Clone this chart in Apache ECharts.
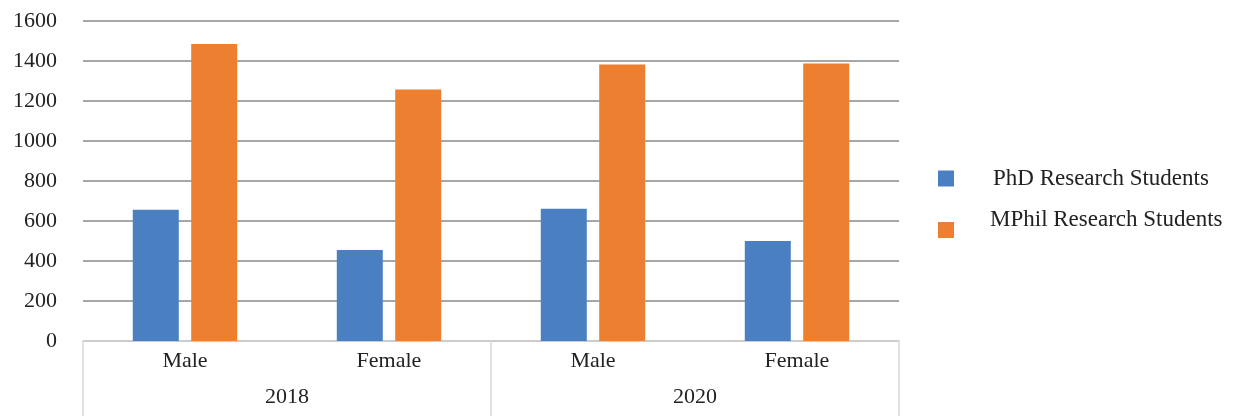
<!DOCTYPE html>
<html>
<head>
<meta charset="utf-8">
<script src="https://cdn.jsdelivr.net/npm/echarts@6/dist/echarts.min.js"></script>
<style>html,body{margin:0;padding:0;background:#fff;}#c{width:1233px;height:416px;}</style>
</head>
<body>
<div id="c"></div>
<script>
const categories = ['Male', 'Female', 'Male', 'Female'];
const years = ['2018', '2020'];
const seriesNames = ['PhD Research Students', 'MPhil Research Students'];
const phdValues = [656, 455, 661, 500];
const mphilValues = [1485, 1258, 1383, 1388];
const yTicks = { min: 0, max: 1600, interval: 200 };

const font = 'Liberation Serif, DejaVu Serif, serif';
const chart = echarts.init(document.getElementById('c'), null, { renderer: 'canvas' });
chart.setOption({
  backgroundColor: '#ffffff',
  animation: false,
  grid: { left: 83, right: 334, top: 21, bottom: 75, containLabel: false },
  legend: [
    {
      data: [seriesNames[0]], left: 938, top: 167, orient: 'vertical', padding: 0,
      itemWidth: 16, itemHeight: 16, icon: 'rect',
      textStyle: { fontFamily: font, fontSize: 23, color: '#222', padding: [0, 0, 0, 34] }
    },
    {
      data: [seriesNames[1]], left: 938, top: 222, orient: 'vertical', padding: 0,
      itemWidth: 16, itemHeight: 16, icon: 'rect',
      formatter: function () { return ''; },
      textStyle: { fontFamily: font, fontSize: 23, color: '#222' }
    },
    {
      data: [{ name: seriesNames[1], icon: 'none' }], left: 985, top: 208, orient: 'vertical', padding: 0,
      itemWidth: 0, itemHeight: 16,
      textStyle: { fontFamily: font, fontSize: 23, color: '#222' }
    }
  ],
  xAxis: [
    {
      type: 'category', data: categories, position: 'bottom',
      axisLine: { show: true, lineStyle: { color: '#d9d9d9', width: 1.5 } },
      axisTick: { show: false },
      axisLabel: { fontFamily: font, fontSize: 22, color: '#222', margin: 9 }
    },
    {
      type: 'category', data: years, position: 'bottom',
      axisLine: { show: false },
      axisTick: { show: true, length: 76, lineStyle: { color: '#d9d9d9', width: 1.5 } },
      axisLabel: { fontFamily: font, fontSize: 22, color: '#222', margin: 45 }
    }
  ],
  yAxis: {
    type: 'value', min: yTicks.min, max: yTicks.max, interval: yTicks.interval,
    axisLine: { show: false }, axisTick: { show: false },
    axisLabel: { fontFamily: font, fontSize: 22, color: '#222', margin: 26,
      padding: [0, 0, 4, 0],
      formatter: function (v) { return String(v); } },
    splitLine: { lineStyle: { color: '#8a8a8a', width: 1.5 } }
  },
  series: [
    { name: seriesNames[0], type: 'bar', data: phdValues, itemStyle: { color: '#4a80c1' },
      barWidth: 46, barGap: '27%' },
    { name: seriesNames[1], type: 'bar', data: mphilValues, itemStyle: { color: '#ed7f31' },
      barWidth: 46, barGap: '27%' }
  ]
});
</script>
</body>
</html>
